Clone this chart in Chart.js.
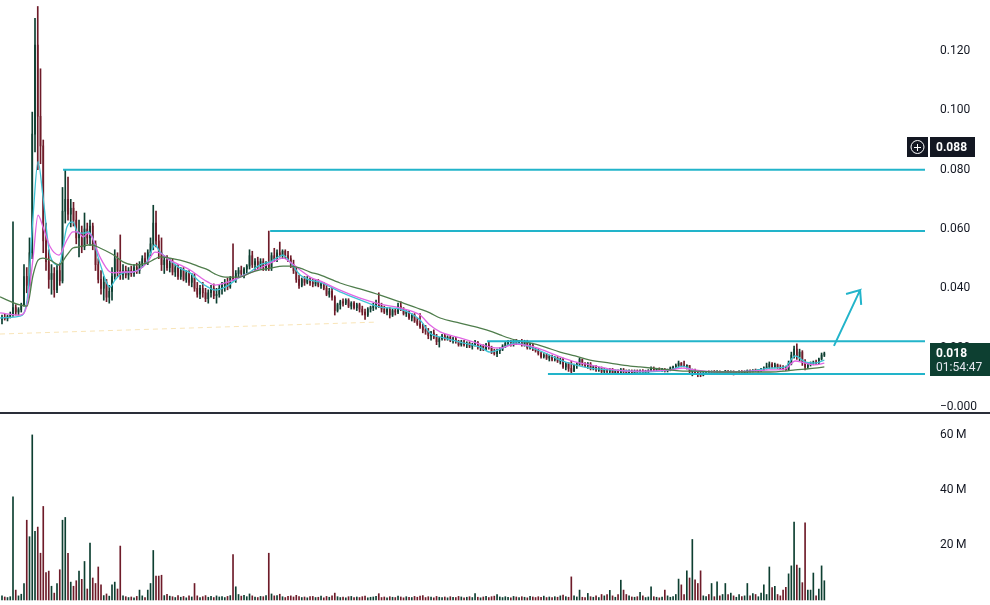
<!DOCTYPE html>
<html>
<head>
<meta charset="utf-8">
<script src="https://cdn.jsdelivr.net/npm/chart.js@4.4.1/dist/chart.umd.min.js"></script>
<style>
  html, body { margin: 0; padding: 0; background: #fff; }
  #wrap { position: relative; width: 990px; height: 605px; overflow: hidden; }
  #price { position: absolute; left: 0; top: 0; }
  #sep { position: absolute; left: 0; top: 412px; width: 990px; height: 2px; background: #2a2e39; }
  #volume { position: absolute; left: 0; top: 414px; }
</style>
</head>
<body>
<div id="wrap">
  <canvas id="price" width="990" height="412" style="width:990px;height:412px"></canvas>
  <div id="sep"></div>
  <canvas id="volume" width="990" height="191" style="width:990px;height:191px"></canvas>
</div>
<script>
// candles: [open, high, low, close]
const ohlc = [
  [0.0295,0.031,0.028,0.0302],[0.0302,0.0315,0.0293,0.0298],[0.0298,0.031,0.029,0.0305],[0.0305,0.032,0.030,0.0312],[0.0312,0.0624,0.0305,0.0335],[0.0335,0.0345,0.031,0.032],[0.032,0.0335,0.031,0.0328],[0.0328,0.035,0.032,0.0345],[0.0345,0.048,0.034,0.044],[0.044,0.047,0.0385,0.041],
  [0.041,0.057,0.040,0.052],[0.052,0.0994,0.050,0.092],[0.092,0.131,0.086,0.122],[0.122,0.135,0.080,0.098],[0.098,0.114,0.082,0.088],[0.088,0.090,0.052,0.056],[0.056,0.062,0.046,0.049],[0.049,0.053,0.040,0.043],[0.043,0.048,0.038,0.045],[0.045,0.047,0.037,0.0395],
  [0.0395,0.048,0.0385,0.046],[0.046,0.0485,0.041,0.0425],[0.0425,0.074,0.0418,0.066],[0.066,0.080,0.062,0.070],[0.070,0.0775,0.063,0.065],[0.065,0.070,0.0607,0.067],[0.067,0.069,0.061,0.063],[0.063,0.066,0.055,0.057],[0.057,0.063,0.0506,0.059],[0.059,0.061,0.052,0.054],
  [0.054,0.0654,0.053,0.060],[0.060,0.062,0.055,0.057],[0.057,0.063,0.0545,0.061],[0.061,0.062,0.053,0.055],[0.055,0.056,0.046,0.048],[0.048,0.050,0.0418,0.043],[0.043,0.046,0.038,0.040],[0.040,0.044,0.036,0.042],[0.042,0.043,0.0355,0.037],[0.037,0.041,0.035,0.039],
  [0.039,0.047,0.036,0.044],[0.044,0.053,0.043,0.050],[0.050,0.052,0.044,0.046],[0.046,0.058,0.043,0.0445],[0.0445,0.048,0.043,0.046],[0.046,0.0475,0.0435,0.0445],[0.0445,0.047,0.043,0.046],[0.046,0.0475,0.044,0.045],[0.045,0.048,0.044,0.047],[0.047,0.0485,0.045,0.046],
  [0.046,0.049,0.045,0.048],[0.048,0.051,0.047,0.050],[0.050,0.052,0.048,0.049],[0.049,0.053,0.048,0.052],[0.052,0.057,0.051,0.055],[0.055,0.068,0.053,0.062],[0.062,0.066,0.054,0.056],[0.056,0.058,0.050,0.052],[0.052,0.057,0.046,0.048],[0.048,0.051,0.045,0.0495],
  [0.0495,0.051,0.046,0.047],[0.047,0.050,0.0455,0.0485],[0.0485,0.050,0.0445,0.0455],[0.0455,0.048,0.044,0.047],[0.047,0.048,0.043,0.044],[0.044,0.047,0.043,0.046],[0.046,0.047,0.0425,0.043],[0.043,0.046,0.042,0.045],[0.045,0.046,0.041,0.042],[0.042,0.045,0.0405,0.0435],
  [0.0435,0.045,0.039,0.040],[0.040,0.042,0.037,0.038],[0.038,0.041,0.0365,0.040],[0.040,0.042,0.037,0.0385],[0.0385,0.040,0.0355,0.0365],[0.0365,0.0395,0.035,0.0385],[0.0385,0.041,0.037,0.040],[0.040,0.0415,0.0365,0.0375],[0.0375,0.040,0.035,0.038],[0.038,0.041,0.037,0.040],
  [0.040,0.042,0.038,0.041],[0.041,0.043,0.039,0.042],[0.042,0.0435,0.0395,0.0405],[0.0405,0.044,0.040,0.0435],[0.044,0.055,0.0425,0.043],[0.043,0.046,0.042,0.045],[0.045,0.047,0.0435,0.046],[0.046,0.0475,0.044,0.045],[0.045,0.047,0.0435,0.0465],[0.0465,0.048,0.045,0.0475],
  [0.0475,0.053,0.0465,0.051],[0.051,0.0525,0.047,0.048],[0.048,0.050,0.046,0.049],[0.049,0.0505,0.0465,0.0475],[0.0475,0.050,0.0465,0.049],[0.049,0.050,0.046,0.047],[0.047,0.049,0.046,0.0485],[0.0485,0.0593,0.046,0.047],[0.047,0.052,0.046,0.051],[0.051,0.0535,0.049,0.050],
  [0.050,0.053,0.049,0.052],[0.052,0.0556,0.0505,0.051],[0.051,0.053,0.050,0.0525],[0.0525,0.053,0.050,0.051],[0.051,0.0525,0.049,0.050],[0.050,0.051,0.047,0.048],[0.048,0.0495,0.045,0.046],[0.046,0.047,0.042,0.043],[0.043,0.0445,0.040,0.041],[0.041,0.0435,0.0405,0.043],
  [0.043,0.044,0.041,0.042],[0.042,0.044,0.0415,0.043],[0.043,0.0435,0.041,0.042],[0.042,0.043,0.0405,0.0415],[0.0415,0.043,0.0408,0.0425],[0.0425,0.043,0.0405,0.041],[0.041,0.042,0.040,0.0415],[0.0415,0.042,0.0395,0.040],[0.040,0.041,0.0375,0.038],[0.038,0.040,0.037,0.039],
  [0.039,0.040,0.036,0.037],[0.037,0.0375,0.031,0.0325],[0.0325,0.035,0.032,0.0345],[0.0345,0.036,0.033,0.0355],[0.0355,0.0365,0.034,0.035],[0.035,0.0365,0.0345,0.036],[0.036,0.0365,0.0335,0.034],[0.034,0.0355,0.033,0.035],[0.035,0.0355,0.033,0.0335],[0.0335,0.035,0.0325,0.0345],
  [0.0345,0.035,0.032,0.033],[0.033,0.034,0.031,0.032],[0.032,0.033,0.0295,0.031],[0.031,0.0335,0.0305,0.033],[0.033,0.034,0.032,0.0335],[0.0335,0.035,0.0325,0.034],[0.034,0.036,0.033,0.035],[0.035,0.0385,0.0335,0.034],[0.034,0.035,0.032,0.033],[0.033,0.034,0.0315,0.032],
  [0.032,0.0335,0.031,0.033],[0.033,0.0335,0.030,0.031],[0.031,0.033,0.0305,0.0325],[0.0325,0.033,0.031,0.032],[0.032,0.035,0.0315,0.034],[0.034,0.0355,0.0325,0.033],[0.033,0.0335,0.031,0.0315],[0.0315,0.0325,0.0305,0.032],[0.032,0.0325,0.0295,0.030],[0.030,0.0315,0.029,0.031],
  [0.031,0.0315,0.0285,0.029],[0.029,0.030,0.0275,0.028],[0.028,0.0315,0.0265,0.027],[0.027,0.028,0.025,0.026],[0.026,0.0275,0.0245,0.0255],[0.0255,0.0265,0.023,0.024],[0.024,0.0255,0.0225,0.025],[0.025,0.026,0.023,0.0235],[0.0235,0.0245,0.021,0.022],[0.022,0.0235,0.0202,0.023],
  [0.023,0.0245,0.0225,0.024],[0.024,0.0245,0.0225,0.023],[0.023,0.024,0.0225,0.0235],[0.0235,0.024,0.022,0.0225],[0.0225,0.0235,0.0215,0.023],[0.023,0.0235,0.0215,0.022],[0.022,0.0225,0.0205,0.021],[0.021,0.0225,0.0205,0.022],[0.022,0.0225,0.0205,0.021],[0.021,0.022,0.020,0.0215],
  [0.0215,0.022,0.020,0.0205],[0.0205,0.0215,0.0195,0.021],[0.021,0.0225,0.0205,0.022],[0.022,0.022,0.0195,0.020],[0.020,0.021,0.019,0.0205],[0.0205,0.021,0.019,0.0195],[0.0195,0.0215,0.019,0.021],[0.021,0.022,0.0195,0.020],[0.020,0.0205,0.018,0.0185],[0.0185,0.0195,0.0175,0.018],
  [0.018,0.0195,0.017,0.019],[0.019,0.020,0.018,0.0195],[0.0195,0.021,0.019,0.0205],[0.0205,0.022,0.020,0.0215],[0.0215,0.0225,0.021,0.022],[0.022,0.0225,0.0205,0.021],[0.021,0.0225,0.0205,0.022],[0.022,0.0228,0.021,0.0215],[0.0215,0.0225,0.021,0.022],[0.022,0.0228,0.0205,0.021],
  [0.021,0.0225,0.0205,0.022],[0.022,0.0225,0.0195,0.020],[0.020,0.0215,0.0195,0.021],[0.021,0.0215,0.019,0.0195],[0.0195,0.020,0.0185,0.019],[0.019,0.0195,0.0175,0.018],[0.018,0.0185,0.0165,0.017],[0.017,0.018,0.0165,0.0175],[0.0175,0.018,0.016,0.0165],[0.0165,0.0175,0.0155,0.017],
  [0.017,0.0175,0.0155,0.016],[0.016,0.017,0.0155,0.0165],[0.0165,0.017,0.015,0.0155],[0.0155,0.0165,0.0145,0.016],[0.016,0.0165,0.013,0.0135],[0.0135,0.015,0.0125,0.0145],[0.0145,0.015,0.012,0.013],[0.013,0.0155,0.0115,0.012],[0.012,0.0145,0.012,0.014],[0.014,0.015,0.013,0.0145],
  [0.0145,0.0165,0.014,0.016],[0.016,0.0162,0.014,0.0145],[0.0145,0.015,0.0135,0.014],[0.014,0.015,0.013,0.0145],[0.0145,0.015,0.0125,0.013],[0.013,0.014,0.0125,0.0135],[0.0135,0.014,0.012,0.0125],[0.0125,0.0135,0.012,0.013],[0.013,0.0135,0.0115,0.012],[0.012,0.013,0.0115,0.0125],
  [0.0125,0.013,0.0115,0.012],[0.012,0.013,0.0115,0.0125],[0.0125,0.013,0.011,0.0115],[0.0115,0.0125,0.011,0.012],[0.012,0.0125,0.011,0.0115],[0.0115,0.013,0.011,0.0125],[0.0125,0.013,0.0115,0.012],[0.012,0.0125,0.011,0.0115],[0.0115,0.0125,0.011,0.012],[0.012,0.0125,0.011,0.0115],
  [0.0115,0.0125,0.011,0.012],[0.012,0.0125,0.0112,0.0118],[0.0118,0.0125,0.011,0.0122],[0.0122,0.0126,0.0113,0.0116],[0.0116,0.0124,0.0112,0.012],[0.012,0.0126,0.0115,0.0123],[0.0123,0.0135,0.012,0.013],[0.013,0.0135,0.0122,0.0125],[0.0125,0.013,0.012,0.0128],[0.0128,0.0132,0.0122,0.0125],
  [0.0125,0.013,0.012,0.0126],[0.0126,0.013,0.0118,0.0122],[0.0122,0.0128,0.0118,0.0125],[0.0125,0.0135,0.0122,0.0132],[0.0132,0.0138,0.0128,0.0135],[0.0135,0.0145,0.013,0.014],[0.014,0.0155,0.0135,0.0148],[0.0148,0.015,0.0135,0.014],[0.014,0.0155,0.0135,0.0138],[0.0138,0.0142,0.0128,0.014],
  [0.014,0.014,0.0115,0.012],[0.012,0.0128,0.0105,0.0124],[0.0124,0.0128,0.011,0.0115],[0.0115,0.012,0.0102,0.011],[0.011,0.0118,0.0102,0.0108],[0.0108,0.0118,0.0105,0.0115],[0.0115,0.012,0.011,0.0118],[0.0118,0.0122,0.0112,0.0116],[0.0116,0.0122,0.0113,0.012],[0.012,0.0123,0.0114,0.0117],
  [0.0117,0.0123,0.0114,0.012],[0.012,0.0122,0.0114,0.0116],[0.0116,0.012,0.0113,0.0119],[0.0119,0.0123,0.0115,0.0121],[0.0121,0.0123,0.0115,0.0117],[0.0117,0.0122,0.0114,0.012],[0.012,0.0122,0.0108,0.0113],[0.0113,0.012,0.0109,0.0118],[0.0118,0.0122,0.0114,0.012],[0.012,0.0123,0.0115,0.0117],
  [0.0117,0.0122,0.0114,0.012],[0.012,0.0125,0.0116,0.0123],[0.0123,0.0125,0.0117,0.012],[0.012,0.0126,0.0118,0.0124],[0.0124,0.0128,0.012,0.0122],[0.0122,0.0126,0.0118,0.0125],[0.0125,0.013,0.012,0.0128],[0.0128,0.0135,0.0124,0.0132],[0.0132,0.0148,0.0128,0.0135],[0.0135,0.0152,0.013,0.0145],
  [0.0145,0.015,0.0132,0.0136],[0.0136,0.0148,0.0132,0.0142],[0.0142,0.0145,0.013,0.0134],[0.0134,0.0142,0.0128,0.013],[0.013,0.014,0.0125,0.0128],[0.0128,0.0138,0.0123,0.0126],[0.0126,0.0155,0.0124,0.0148],[0.0148,0.0185,0.0142,0.0175],[0.0175,0.0205,0.0165,0.0195],[0.0195,0.0213,0.016,0.017],
  [0.017,0.0195,0.0155,0.0185],[0.0185,0.019,0.014,0.015],[0.015,0.016,0.0125,0.0135],[0.0135,0.015,0.013,0.0145],[0.0145,0.0152,0.0138,0.0148],[0.0148,0.0155,0.0142,0.015],[0.015,0.0158,0.0143,0.0148],[0.0148,0.0165,0.0145,0.0162],[0.0162,0.0182,0.0158,0.0175],[0.0175,0.0185,0.017,0.018]
];

// volume per candle, millions
const volumesM = [
  1.5,1.1,0.9,1.2,37.5,3.6,1.5,2.1,6,29,
  23,60,25,26.5,17,34,10,10.5,5,2.5,
  6,11,29,30,17,6.5,5,7,10.5,7.5,
  14,4,20.7,8,6,12,5.5,1.6,2.2,1.4,
  5.5,6.5,4,19.6,1.5,1.2,0.9,1.1,0.8,1.3,
  3.6,1.5,0.9,3.6,6,18,8.7,8.7,9,1.6,
  2.1,1.4,1.2,0.9,1.6,1,1.3,0.8,1.5,1.1,
  6,1.5,0.9,1.2,1.6,1,1.3,0.9,1.5,1.1,
  1.2,0.9,1.3,1.6,16.5,4.8,2,1.4,1.7,1.2,
  2.2,1.5,1.1,0.9,1.3,1.2,1.6,17,2.2,1.5,
  1.6,2.1,1.2,0.9,1.3,1.5,1.1,1.7,1.2,0.9,
  1.1,0.8,1.2,1.3,0.9,1,1.4,0.8,1.3,1,
  1.5,2.5,1.2,0.9,1.1,0.8,1.2,1.3,0.9,1.1,
  0.9,1.2,1.4,0.8,1,1.1,1.3,2.3,0.9,1.1,
  0.8,1.2,1,0.9,1.4,1.1,0.8,1.2,1,0.9,
  1.3,1,1.4,1.6,0.9,1.2,1.1,0.8,1.3,1,
  0.9,1.1,0.8,1.2,1,0.9,1.3,1.1,0.8,1,
  1.2,0.9,2.3,1,0.8,1.1,1.3,0.9,1.2,1.4,
  2,1.1,0.9,1.2,1,0.8,1.3,1.1,0.9,1.2,
  1,0.8,1.3,1.1,0.9,1.2,1,1.4,0.9,1.1,
  0.9,1.2,1,1.5,1.8,1.2,1,8.4,1.5,1.1,
  3.6,1,0.9,2.4,1.2,1,1.5,0.9,2,1.5,
  2,3.5,1.5,1,2,7.2,3.6,2,1.5,1.1,
  1,1.2,2.8,1.5,0.9,1.1,4.8,1.2,1,0.8,
  1.1,3.6,1.5,1,1.2,2,7.6,5.5,2,10.6,
  8,22,7.3,6,10.6,1.5,1.2,2,6,1.2,
  6.6,1.5,2,6,2,2.5,1.5,1,2,1.2,
  1.5,6,1.5,2.3,2,1.2,2.5,5.5,2,12,
  4.5,5,2,1.5,3.6,4.6,9.5,12.4,28.3,12.7,
  11.6,6.3,28,3.6,3.6,9.8,1.5,4,12.4,7
];

// moving averages, read at these candle positions
const maIdx = [-0.7,6.5,9.1,11.3,13.1,14.9,17.5,20.7,23.6,25.8,27.6,29.5,31.3,32.7,35.6,39.3,41.1,44.0,47.6,52.7,55.6,57.5,61.1,64.7,68.4,72.0,74.9,77.5,81.1,86.5,90.2,93.8,97.5,102.2,104.7,108.4,112.0,115.6,122.9,130.2,137.5,144.7,152.0,155.6,159.3,166.5,173.8,177.5,181.1,186.5,192.0,197.5,202.9,208.4,213.8,221.1,228.4,232.0,242.9,247.6,252.0,261.1,272.0,279.3,284.7,288.4,292.0,295.6,299.0];
const maFast = [0.030,0.0306,0.036,0.0644,0.0827,0.071,0.051,0.0479,0.0607,0.0624,0.0586,0.0586,0.059,0.0576,0.0485,0.0404,0.0428,0.0452,0.0455,0.0489,0.0546,0.0522,0.0495,0.0468,0.0452,0.0421,0.0404,0.0394,0.0404,0.0438,0.0455,0.0479,0.0489,0.0512,0.0489,0.0445,0.0428,0.0421,0.0388,0.0361,0.0337,0.033,0.0293,0.0249,0.0236,0.0219,0.0202,0.0185,0.0195,0.0216,0.0202,0.0182,0.0158,0.0142,0.0131,0.0125,0.0121,0.0118,0.0125,0.0138,0.0121,0.0118,0.0121,0.0131,0.0135,0.0172,0.0152,0.0148,0.0158];
const maMid = [0.0317,0.031,0.0344,0.0502,0.0647,0.0607,0.054,0.0512,0.0563,0.059,0.059,0.0573,0.0586,0.0573,0.0506,0.0455,0.0452,0.0455,0.0455,0.0485,0.0522,0.0519,0.0495,0.0479,0.0462,0.0438,0.0421,0.0411,0.0418,0.0438,0.0452,0.0468,0.0485,0.0502,0.0489,0.0462,0.0438,0.0425,0.0394,0.0367,0.0347,0.0334,0.031,0.0276,0.0253,0.0233,0.0212,0.0202,0.0199,0.0212,0.0206,0.0189,0.0169,0.0152,0.0142,0.0128,0.0121,0.0121,0.0125,0.0131,0.0125,0.0118,0.0121,0.0125,0.0128,0.0155,0.0148,0.0142,0.0148];
const maSlow = [0.0371,0.0344,0.034,0.0445,0.0495,0.0502,0.0495,0.0479,0.0512,0.0536,0.0539,0.0543,0.0546,0.0546,0.0536,0.0519,0.0509,0.0489,0.0479,0.0485,0.0499,0.0506,0.0502,0.0495,0.0485,0.0472,0.0462,0.0448,0.0438,0.0438,0.0452,0.0462,0.0468,0.0475,0.0475,0.0468,0.0455,0.0445,0.0418,0.0398,0.0377,0.0354,0.033,0.0317,0.030,0.0283,0.0266,0.0256,0.0243,0.0226,0.0216,0.0202,0.0185,0.0172,0.0158,0.0148,0.0138,0.0135,0.0125,0.0121,0.0121,0.0118,0.0118,0.0118,0.0121,0.0125,0.0128,0.0131,0.0135];

// drawn levels and annotations
const levelPrices = [0.080, 0.0593, 0.0222, 0.0111];
const levelStartIdx = [22.2, 97.5, 176.4, 198.5];
const trendIdx = [-0.73, 135.6];
const trendPrices = [0.0246, 0.0286];
const arrowIdx = [302.5, 312, 306.9, null, 312, 312.4];
const arrowPrices = [0.0206, 0.0394, 0.0381, null, 0.0394, 0.0344];

const priceTicks = [0, 0.02, 0.04, 0.06, 0.08, 0.10, 0.12];
const volumeTicks = [20, 40, 60];
const alertPrice = 0.0877, alertLabel = '0.088';
const lastPrice = 0.018, lastLabel = '0.018', countdown = '01:54:47';

const X_MIN = -0.727, X_MAX = 335.6;
const PRICE_MIN = -0.001685, PRICE_MAX = 0.13719;
const VOL_MIN = -1.82, VOL_MAX = 67.6;

const UP = '#0d3f31', DOWN = '#6e1b29';
const CYAN = '#22b4ca';

Chart.defaults.font.family = 'Roboto, "Noto Sans", sans-serif';
Chart.defaults.font.size = 12;

const idx = ohlc.map((_, i) => i);
const candleColors = ohlc.map(c => (c[3] >= c[0] ? UP : DOWN));

const fixedAxis = s => {
  s.width = 65;
  s.paddingTop = 0;
  s.paddingBottom = 0;
};

const xAxis = { type: 'linear', min: X_MIN, max: X_MAX, display: false, offset: false };

const lineDs = (data, color, width, extra) => Object.assign({
  type: 'line', data, borderColor: color, borderWidth: width,
  pointRadius: 0, fill: false, order: 1
}, extra || {});

const priceTags = {
  id: 'priceTags',
  afterDraw(chart) {
    const { ctx, chartArea } = chart;
    const y = chart.scales.y;
    const left = chartArea.right + 5;
    ctx.save();
    ctx.textBaseline = 'middle';

    // alert line tag
    const ay = Math.round(y.getPixelForValue(alertPrice));
    ctx.fillStyle = '#131722';
    ctx.fillRect(left - 23, ay - 10, 21, 20);
    ctx.fillRect(left, ay - 10, 45, 20);
    ctx.strokeStyle = '#fff';
    ctx.lineWidth = 1;
    ctx.beginPath();
    ctx.arc(left - 12.5, ay, 6.5, 0, Math.PI * 2);
    ctx.stroke();
    ctx.beginPath();
    ctx.moveTo(left - 16, ay + 0.5); ctx.lineTo(left - 9, ay + 0.5);
    ctx.moveTo(left - 12.5, ay - 3); ctx.lineTo(left - 12.5, ay + 4);
    ctx.stroke();
    ctx.font = 'bold 12px Roboto, sans-serif';
    ctx.fillStyle = '#fff';
    ctx.fillText(alertLabel, left + 6, ay + 1);

    // last price + countdown
    const ly = Math.round(y.getPixelForValue(lastPrice));
    ctx.fillStyle = UP;
    ctx.fillRect(left, ly - 11, 60, 33);
    ctx.fillStyle = '#fff';
    ctx.fillText(lastLabel, left + 6, ly);
    ctx.font = '12px Roboto, sans-serif';
    ctx.fillStyle = '#e4e7ee';
    ctx.fillText(countdown, left + 6, ly + 14);
    ctx.restore();
  }
};

new Chart(document.getElementById('price'), {
  type: 'bar',
  data: {
    datasets: [
      // wicks
      {
        data: idx.map(i => ({ x: i, y: [ohlc[i][2], ohlc[i][1]] })),
        backgroundColor: candleColors, barThickness: 1, grouped: false, order: 5
      },
      // bodies
      {
        data: idx.map(i => ({ x: i, y: [ohlc[i][0], ohlc[i][3]] })),
        backgroundColor: candleColors, barThickness: 1, minBarLength: 1, grouped: false, order: 4
      },
      lineDs(trendIdx.map((x, k) => ({ x, y: trendPrices[k] })), 'rgba(240,195,95,0.45)', 1, { borderDash: [5, 4], order: 6 }),
      lineDs(maIdx.map((x, k) => ({ x, y: maSlow[k] })), '#4f7d4c', 1.3, { cubicInterpolationMode: 'monotone' }),
      lineDs(maIdx.map((x, k) => ({ x, y: maMid[k] })), '#e066e3', 1.3, { cubicInterpolationMode: 'monotone' }),
      lineDs(maIdx.map((x, k) => ({ x, y: maFast[k] })), '#3fc3d6', 1.3, { cubicInterpolationMode: 'monotone' }),
      ...levelPrices.map((p, k) => lineDs([{ x: levelStartIdx[k], y: p }, { x: X_MAX, y: p }], CYAN, 2, { order: 0 })),
      lineDs(arrowIdx.map((x, k) => ({ x: x === null ? 312 : x, y: arrowPrices[k] })), CYAN, 2, { order: 0, spanGaps: false })
    ]
  },
  options: {
    responsive: false,
    devicePixelRatio: 1,
    animation: false,
    events: [],
    layout: { padding: 0 },
    plugins: { legend: { display: false }, tooltip: { enabled: false } },
    scales: {
      x: xAxis,
      y: {
        position: 'right',
        min: PRICE_MIN, max: PRICE_MAX,
        afterFit: fixedAxis,
        afterBuildTicks: s => { s.ticks = priceTicks.map(v => ({ value: v })); },
        grid: { display: false, drawTicks: false },
        border: { display: false },
        ticks: {
          padding: 15, color: '#131722',
          callback: v => (Math.abs(v) < 1e-9 ? '\u22120.000' : v.toFixed(3))
        }
      }
    }
  },
  plugins: [priceTags]
});

new Chart(document.getElementById('volume'), {
  type: 'bar',
  data: {
    datasets: [{
      data: idx.map(i => ({ x: i, y: volumesM[i] })),
      backgroundColor: candleColors, barThickness: 1, grouped: false
    }]
  },
  options: {
    responsive: false,
    devicePixelRatio: 1,
    animation: false,
    events: [],
    layout: { padding: 0 },
    plugins: { legend: { display: false }, tooltip: { enabled: false } },
    scales: {
      x: xAxis,
      y: {
        position: 'right',
        min: VOL_MIN, max: VOL_MAX,
        afterFit: fixedAxis,
        afterBuildTicks: s => { s.ticks = volumeTicks.map(v => ({ value: v })); },
        grid: { display: false, drawTicks: false },
        border: { display: false },
        ticks: { padding: 15, color: '#131722', callback: v => v + '\u2009M' }
      }
    }
  }
});
</script>
</body>
</html>
